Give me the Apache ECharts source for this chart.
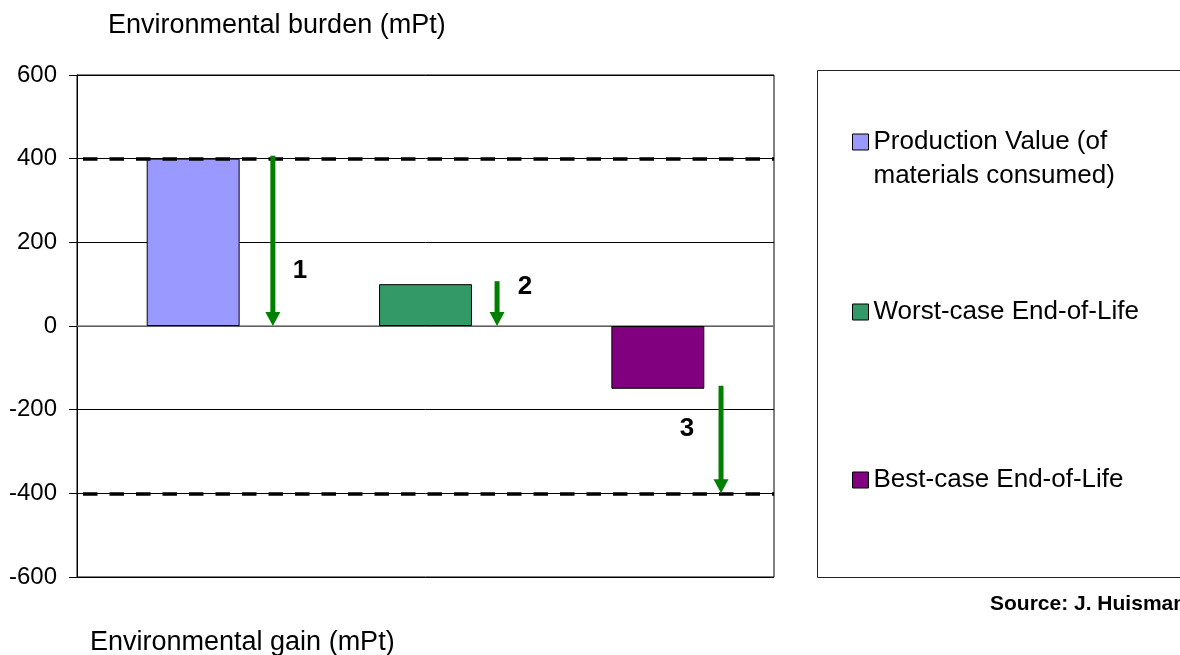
<!DOCTYPE html>
<html>
<head>
<meta charset="utf-8">
<script src="https://cdn.jsdelivr.net/npm/echarts@6/dist/echarts.min.js"></script>
<style>
  html, body { margin: 0; padding: 0; background: #ffffff; }
  #chart { width: 1180px; height: 655px; }
</style>
</head>
<body>
<div id="chart"></div>
<script>
// ---- data ----
const categories = ['Production', 'Worst-case EoL', 'Best-case EoL'];
const seriesNames = [
  'Production Value (of materials consumed)',
  'Worst-case End-of-Life',
  'Best-case End-of-Life'
];
const productionValue = [400, null, null];
const worstCaseEoL = [null, 100, null];
const bestCaseEoL = [null, null, -150];
const referenceLevels = [400, -400];
// arrow steps: [category index, from value, to value]
const arrowSteps = [[0, 400, 0], [1, 100, 0], [2, -150, -400]];
const arrowLabels = ['1', '2', '3'];
const arrowLabelValues = [133, 93, -245];
const yMin = -600, yMax = 600, yStep = 200;

// ---- layout / style ----
const FONT = '"Liberation Sans", Arial, Helvetica, sans-serif';
const COLORS = ['#9999ff', '#339966', '#800080'];
const ARROW_SHIFT = [0.343, 0.308, 0.272];   // arrow x, in category bands from the centre
const LABEL_DX = [27, 28, -34];               // step number x offset from its arrow, px
const ARROW_GREEN = '#008000';

const chart = echarts.init(document.getElementById('chart'), null, { renderer: 'canvas' });

function barSeries(idx, values) {
  return {
    name: seriesNames[idx],
    type: 'bar',
    stack: 'all',
    barWidth: '40%',
    data: values,
    itemStyle: { color: COLORS[idx], borderColor: '#000', borderWidth: 1 },
    z: 2
  };
}

const legendCommon = {
  orient: 'vertical',
  left: 852,
  icon: 'rect',
  itemWidth: 16,
  itemHeight: 16,
  padding: 0,
  selectedMode: false,
  itemStyle: { borderColor: '#000', borderWidth: 1 },
  textStyle: { fontFamily: FONT, fontSize: 26, color: '#000', lineHeight: 34 }
};

const option = {
  animation: false,
  backgroundColor: '#ffffff',
  title: [
    { text: 'Environmental burden (mPt)', left: 108, top: 12, padding: 0,
      textStyle: { fontFamily: FONT, fontSize: 27, fontWeight: 'normal', color: '#000' } },
    { text: 'Environmental gain (mPt)', left: 90, top: 629, padding: 0,
      textStyle: { fontFamily: FONT, fontSize: 27, fontWeight: 'normal', color: '#000' } }
  ],
  legend: [
    // the leading blank line keeps the swatch level with the first line of text
    Object.assign({}, legendCommon, {
      data: [seriesNames[0]], top: 91,
      formatter: () => '\nProduction Value (of\nmaterials consumed)'
    }),
    Object.assign({}, legendCommon, { data: [seriesNames[1]], top: 295 }),
    Object.assign({}, legendCommon, { data: [seriesNames[2]], top: 463 })
  ],
  grid: {
    left: 77, top: 75, width: 697, bottom: 78,
    show: true, borderColor: '#000', borderWidth: 1, backgroundColor: 'transparent',
    containLabel: false
  },
  xAxis: {
    type: 'category',
    data: categories,
    axisLine: { onZero: true, lineStyle: { color: '#808080', width: 1.5 } },
    axisTick: { show: false },
    axisLabel: { show: false },
    splitLine: { show: false }
  },
  yAxis: {
    type: 'value',
    min: yMin, max: yMax, interval: yStep,
    axisLine: { show: true, lineStyle: { color: '#000', width: 1 } },
    axisTick: { show: true, length: 8, lineStyle: { color: '#000' } },
    axisLabel: { fontFamily: FONT, fontSize: 24, color: '#000', margin: 20 },
    splitLine: { show: true, lineStyle: { color: '#000', width: 1 } }
  },
  graphic: [
    { type: 'rect', left: 817, top: 70, z: 0,
      shape: { width: 420, height: 507 },
      style: { fill: 'transparent', stroke: '#222', lineWidth: 1 } },
    { type: 'text', left: 990, top: 594, z: 5,
      style: { text: 'Source: J. Huisman', font: 'bold 21px ' + FONT, fill: '#000' } }
  ],
  series: [
    barSeries(0, productionValue),
    barSeries(1, worstCaseEoL),
    Object.assign(barSeries(2, bestCaseEoL), {
      markLine: {
        silent: true,
        symbol: 'none',
        label: { show: false },
        z: 4,
        lineStyle: { color: '#000', width: 3.5, type: [14.5, 12], dashOffset: 20.5 },
        data: referenceLevels.map(v => ({ yAxis: v }))
      }
    }),
    {
      type: 'custom',
      name: 'steps',
      z: 6,
      data: arrowSteps.map((s, i) => [s[0], s[1], s[2], arrowLabelValues[i]]),
      encode: { x: 0, y: [1, 2, 3] },
      renderItem(params, api) {
        const i = params.dataIndex;
        const cat = api.value(0);
        const from = api.coord([cat, api.value(1)]);
        const to = api.coord([cat, api.value(2)]);
        const lab = api.coord([cat, api.value(3)]);
        const band = api.size([1, 0])[0];
        const x = from[0] + ARROW_SHIFT[i] * band;
        const headH = 14, headW = 15;
        const tipY = to[1];
        return {
          type: 'group',
          children: [
            { type: 'line',
              shape: { x1: x, y1: from[1] - 3, x2: x, y2: tipY - headH + 2 },
              style: { stroke: ARROW_GREEN, lineWidth: 5 } },
            { type: 'polygon',
              shape: { points: [[x - headW / 2, tipY - headH], [x + headW / 2, tipY - headH], [x, tipY]] },
              style: { fill: ARROW_GREEN } },
            { type: 'text',
              x: x + LABEL_DX[i], y: lab[1],
              style: { text: arrowLabels[i], font: 'bold 26px ' + FONT, fill: '#000',
                       align: 'center', verticalAlign: 'middle' } }
          ]
        };
      }
    }
  ]
};

chart.setOption(option);
</script>
</body>
</html>
